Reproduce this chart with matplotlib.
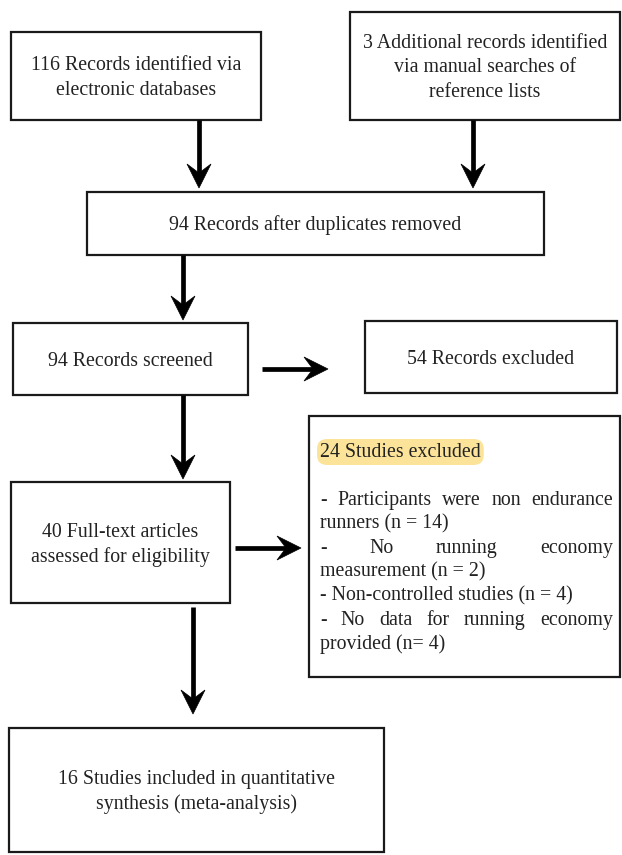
import matplotlib
matplotlib.use("Agg")
import matplotlib.pyplot as plt
from matplotlib.patches import Rectangle, Polygon, FancyBboxPatch

# ---- content ----
box_labels = [
    "116 Records identified via\nelectronic databases",
    "3 Additional records identified\nvia manual searches of\nreference lists",
    "94 Records after duplicates removed",
    "94 Records screened",
    "54 Records excluded",
    "40 Full-text articles\nassessed for eligibility",
    "16 Studies included in quantitative\nsynthesis (meta-analysis)",
]
excl_title = "24 Studies excluded"
excl_lines = [
    ("- Participants were non endurance", True),
    ("runners (n = 14)", False),
    ("- No running economy", True),
    ("measurement (n = 2)", False),
    ("- Non-controlled studies (n = 4)", False),
    ("- No data for running economy", True),
    ("provided (n= 4)", False),
]

# ---- layout (pixel coordinates: x0, y0, x1, y1) ----
W, H = 622, 855
boxes = [
    (11, 32, 261, 120),
    (350, 12, 620, 120),
    (87, 192, 544, 255),
    (13, 323, 248, 395),
    (365, 321, 617, 393),
    (11, 482, 230, 603),
    (9, 728, 384, 852),
]
excl_box = (309, 416, 620, 677)
arrows = [
    ((199, 120), (199, 188)),
    ((473, 120), (473, 188)),
    ((183, 255), (183, 320)),
    ((262, 369), (328, 369)),
    ((183, 395), (183, 479)),
    ((235, 548), (301, 548)),
    ((193, 607), (193, 714)),
]

FONT = "Liberation Serif"
FS = 14.3
LINE = 24.5
YOFF = 2
TXT = "#222222"
EDGE = "#1a1a1a"

fig = plt.figure(figsize=(W / 100, H / 100), dpi=100)
ax = fig.add_axes([0, 0, 1, 1])
ax.set_xlim(0, W)
ax.set_ylim(H, 0)
ax.axis("off")

for (x0, y0, x1, y1), label in zip(boxes, box_labels):
    ax.add_patch(Rectangle((x0, y0), x1 - x0, y1 - y0, fill=False,
                           edgecolor=EDGE, linewidth=1.6))
    lines = label.split("\n")
    cx, cy = (x0 + x1) / 2, (y0 + y1) / 2 + YOFF
    n = len(lines)
    for i, ln in enumerate(lines):
        yy = cy + (i - (n - 1) / 2) * LINE
        ax.text(cx, yy, ln, ha="center", va="center", fontsize=FS,
                family=FONT, color=TXT)

# arrows: thick shaft + notched head
def draw_arrow(p0, p1):
    (xa, ya), (xb, yb) = p0, p1
    dx, dy = xb - xa, yb - ya
    L = (dx ** 2 + dy ** 2) ** 0.5
    ux, uy = dx / L, dy / L
    px, py = -uy, ux
    hl, hw, notch = 24, 12, 9
    back = (xb - ux * hl, yb - uy * hl)
    ax.plot([xa, xb - ux * (hl - notch)], [ya, yb - uy * (hl - notch)],
            color="black", linewidth=3.4, solid_capstyle="butt")
    pts = [(xb, yb),
           (back[0] + px * hw, back[1] + py * hw),
           (xb - ux * (hl - notch), yb - uy * (hl - notch)),
           (back[0] - px * hw, back[1] - py * hw)]
    ax.add_patch(Polygon(pts, closed=True, facecolor="black",
                         edgecolor="black", linewidth=0.5))

for p0, p1 in arrows:
    draw_arrow(p0, p1)

# exclusion box
x0, y0, x1, y1 = excl_box
ax.add_patch(Rectangle((x0, y0), x1 - x0, y1 - y0, fill=False,
                       edgecolor=EDGE, linewidth=1.6))
left, right = 320, 613
ty = 452
t = ax.text(left, ty, excl_title, ha="left", va="center", fontsize=FS,
            family=FONT, color=TXT, zorder=3)
fig.canvas.draw()
renderer = fig.canvas.get_renderer()
inv = ax.transData.inverted()

def width_of(txt):
    tt = ax.text(0, 0, txt, fontsize=FS, family=FONT)
    bb = tt.get_window_extent(renderer)
    tt.remove()
    a = inv.transform((bb.x0, bb.y0))
    b = inv.transform((bb.x1, bb.y0))
    return b[0] - a[0]

tw = width_of(excl_title)
ax.add_patch(FancyBboxPatch((left - 1, ty - 11), tw + 2, 22,
                            boxstyle="round,pad=2,rounding_size=10",
                            facecolor="#fbe49a", edgecolor="none", zorder=2))

ly = 500
for txt, justify in excl_lines:
    if justify:
        words = txt.split(" ")
        widths = [width_of(w) for w in words]
        gap = (right - left - sum(widths)) / (len(words) - 1)
        xx = left
        for w, wd in zip(words, widths):
            ax.text(xx, ly, w, ha="left", va="center", fontsize=FS,
                    family=FONT, color=TXT)
            xx += wd + gap
    else:
        ax.text(left, ly, txt, ha="left", va="center", fontsize=FS,
                family=FONT, color=TXT)
    ly += 24

fig.savefig("out.png", dpi=100, facecolor="white")
